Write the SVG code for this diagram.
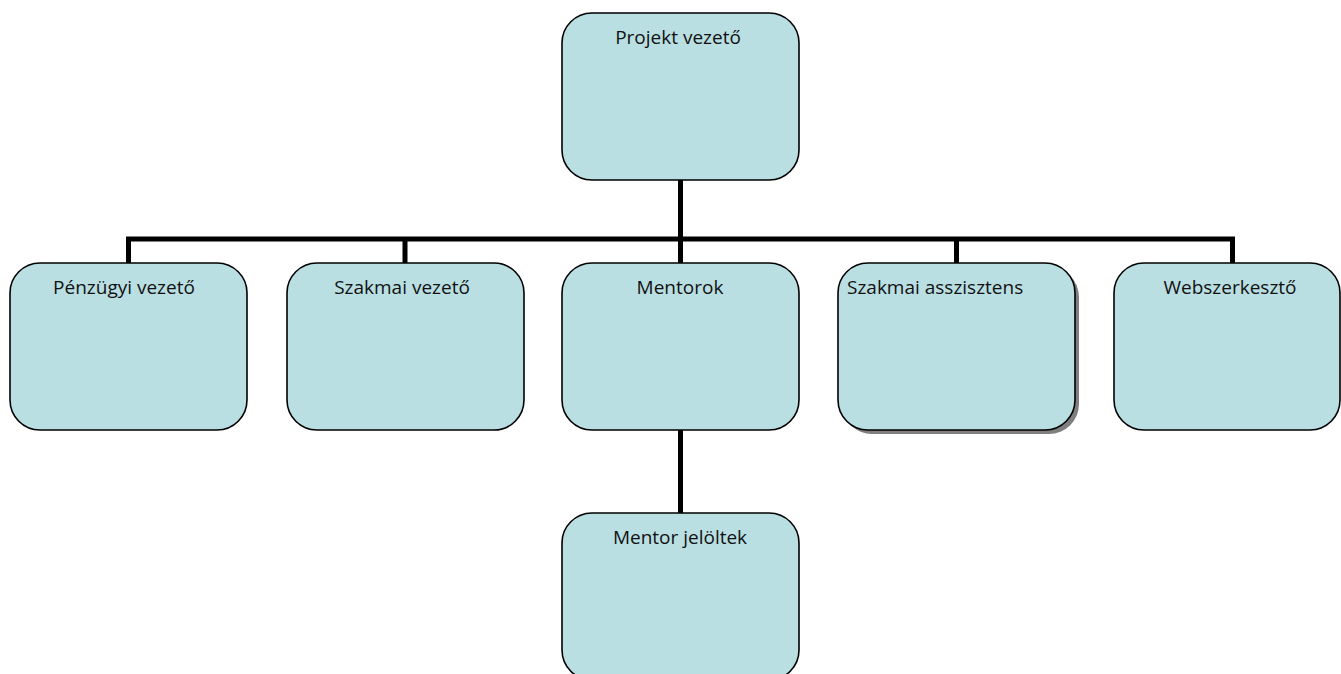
<svg xmlns="http://www.w3.org/2000/svg" width="1341" height="674" viewBox="0 0 1341 674">
<style>
.box{fill:#B9DFE3;stroke:#000;stroke-width:1.6}
.shadow{fill:#7f7f7f}
.lbl{font-family:"Open Sans","Noto Sans",sans-serif;font-size:19px;fill:#111}
.c{text-anchor:middle}
.conn{stroke:#000;stroke-width:5;fill:none}
</style>
<rect width="1341" height="674" fill="#fff"/>
<g id="connectors">
<line class="conn" x1="680.5" y1="180" x2="680.5" y2="239"/>
<line class="conn" x1="126" y1="239" x2="1235" y2="239"/>
<line class="conn" x1="128.5" y1="237" x2="128.5" y2="263"/>
<line class="conn" x1="405" y1="239" x2="405" y2="263"/>
<line class="conn" x1="680.5" y1="239" x2="680.5" y2="263"/>
<line class="conn" x1="956.5" y1="239" x2="956.5" y2="263"/>
<line class="conn" x1="1232.5" y1="237" x2="1232.5" y2="263"/>
<line class="conn" x1="680.5" y1="430" x2="680.5" y2="513"/>
</g>
<g id="projekt-vezeto">
<rect class="box" x="562" y="13" width="237" height="167" rx="30"/>
<text class="lbl c" x="678" y="44">Projekt vezető</text>
</g>
<g id="penzugyi-vezeto">
<rect class="box" x="10" y="263" width="237" height="167" rx="30"/>
<text class="lbl c" x="124" y="294">Pénzügyi vezető</text>
</g>
<g id="szakmai-vezeto">
<rect class="box" x="287" y="263" width="237" height="167" rx="30"/>
<text class="lbl c" x="402" y="294">Szakmai vezető</text>
</g>
<g id="mentorok">
<rect class="box" x="562" y="263" width="237" height="167" rx="30"/>
<text class="lbl c" x="680" y="294">Mentorok</text>
</g>
<g id="szakmai-asszisztens">
<rect class="shadow" x="842" y="267" width="237" height="167" rx="30"/>
<rect class="box" x="838" y="263" width="237" height="167" rx="30"/>
<text class="lbl" x="847" y="294">Szakmai asszisztens</text>
</g>
<g id="webszerkeszto">
<rect class="box" x="1114" y="263" width="226" height="167" rx="30"/>
<text class="lbl c" x="1230" y="294">Webszerkesztő</text>
</g>
<g id="mentor-jeloltek">
<rect class="box" x="562" y="513" width="237" height="167" rx="30"/>
<text class="lbl c" x="680" y="544">Mentor jelöltek</text>
</g>
</svg>
